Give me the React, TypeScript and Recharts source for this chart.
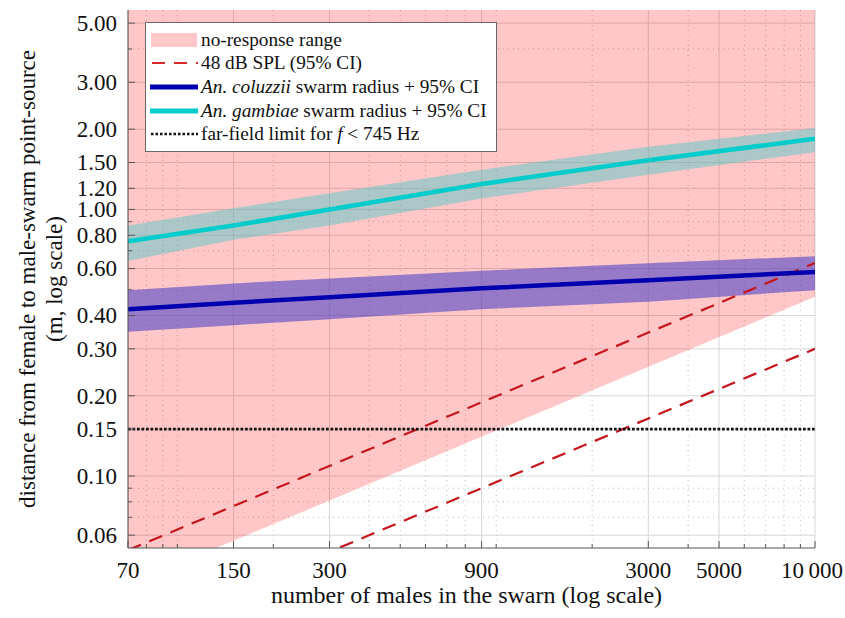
import React from 'react';
import { ComposedChart, Area, Line, XAxis, YAxis, CartesianGrid } from 'recharts';

// swarm size sampled along the fitted radius curves
const swarmN = [70, 150, 300, 900, 3000, 10000];
const gambiaeRadius = [0.76, 0.87, 1.0, 1.245, 1.53, 1.84];
const gambiaeCiLow = [0.64, 0.77, 0.87, 1.1, 1.35, 1.64];
const gambiaeCiHigh = [0.87, 1.01, 1.15, 1.41, 1.72, 2.02];
const coluzziiRadius = [0.422, 0.447, 0.468, 0.506, 0.543, 0.583];
const coluzziiCiLow = [0.348, 0.368, 0.387, 0.422, 0.451, 0.498];
const coluzziiCiHigh = [0.498, 0.528, 0.551, 0.589, 0.628, 0.668];

// straight lines on log-log axes, so the two end points are enough
const edgeN = [70, 10000];
const noResponseFloor = [0.039, 0.47];
const noResponseCeiling = [5.6, 5.6];
const splHigh = [0.0527, 0.63];
const splLow = [0.0251, 0.3];
const farFieldLimit = [0.15, 0.15];

const xTicks = [70, 150, 300, 900, 3000, 5000, 10000];
const xTickLabels = ['70', '150', '300', '900', '3000', '5000', '10\u2009000'];
const xMinorTicks = [80, 90, 100, 200, 400, 500, 600, 700, 800, 1000, 2000, 4000, 6000, 7000, 8000, 9000];
const yTicks = [0.06, 0.1, 0.15, 0.2, 0.3, 0.4, 0.6, 0.8, 1, 1.2, 1.5, 2, 3, 5];
const yMinorTicks = [0.07, 0.08, 0.09, 0.5, 0.7, 0.9, 4];

const allN = Array.from(new Set([...swarmN, ...edgeN])).sort((a, b) => a - b);
const rows = allN.map((n) => {
  const row: any = { n };
  const i = swarmN.indexOf(n);
  if (i >= 0) {
    row.gambiae = gambiaeRadius[i];
    row.gambiaeCi = [gambiaeCiLow[i], gambiaeCiHigh[i]];
    row.coluzzii = coluzziiRadius[i];
    row.coluzziiCi = [coluzziiCiLow[i], coluzziiCiHigh[i]];
  }
  const j = edgeN.indexOf(n);
  if (j >= 0) {
    row.noResponse = [noResponseFloor[j], noResponseCeiling[j]];
    row.splHigh = splHigh[j];
    row.splLow = splLow[j];
    row.farField = farFieldLimit[j];
  }
  return row;
});

const FONT = '"Liberation Serif", "Times New Roman", serif';
const X_MARGIN = 14;
const Y_MARGIN = 11;

const XTick = ({ x, y, payload }: any) => {
  const k = xTicks.indexOf(payload.value);
  const axisY = y - X_MARGIN;
  // last label sits against the right edge, nudge it in a little
  const tx = k === xTicks.length - 1 ? x - 3 : x;
  return (
    <g>
      <line x1={x} x2={x} y1={axisY} y2={axisY - (k >= 0 ? 7 : 4)} stroke="#555" />
      {k >= 0 && (
        <text x={tx} y={y} dy="0.71em" textAnchor="middle" fontSize={23} fontFamily={FONT} fill="#111">
          {xTickLabels[k]}
        </text>
      )}
    </g>
  );
};

const YTick = ({ x, y, payload }: any) => {
  const major = yTicks.includes(payload.value);
  const axisX = x + Y_MARGIN;
  return (
    <g>
      <line x1={axisX} x2={axisX + (major ? 7 : 4)} y1={y} y2={y} stroke="#555" />
      {major && (
        <text x={x} y={y} dy="0.34em" textAnchor="end" fontSize={23} fontFamily={FONT} fill="#111">
          {payload.value.toFixed(2)}
        </text>
      )}
    </g>
  );
};

const YTitle = ({ viewBox }: any) => {
  const cy = viewBox.y + viewBox.height / 2;
  return (
    <g fontSize={23} fontFamily={FONT} fill="#111">
      <text transform={`translate(35, ${cy}) rotate(-90)`} textAnchor="middle">
        distance from female to male-swarm point-source
      </text>
      <text transform={`translate(62, ${cy}) rotate(-90)`} textAnchor="middle">
        (m, log scale)
      </text>
    </g>
  );
};

const XTitle = ({ viewBox }: any) => (
  <text x={viewBox.x + viewBox.width / 2 - 5} y={603} textAnchor="middle" fontSize={24} fontFamily={FONT} fill="#111">
    number of males in the swarn (log scale)
  </text>
);

const Swatch = ({ kind }: { kind: string }) => (
  <svg width={48} height={16} style={{ marginRight: 3, flex: 'none' }}>
    {kind === 'area' && <rect x={1} y={1} width={46} height={14} fill="#ffc7c7" />}
    {kind === 'dash' && <line x1={2} x2={48} y1={8} y2={8} stroke="#d42a2a" strokeWidth={2} strokeDasharray="13 9" />}
    {kind === 'blue' && <line x1={0} x2={48} y1={8} y2={8} stroke="#0000b0" strokeWidth={5} />}
    {kind === 'cyan' && <line x1={0} x2={48} y1={8} y2={8} stroke="#00cccc" strokeWidth={5} />}
    {kind === 'dot' && <line x1={1} x2={48} y1={8} y2={8} stroke="#111" strokeWidth={2.5} strokeDasharray="2.5 2" />}
  </svg>
);

const legendRows: [string, React.ReactNode][] = [
  ['area', 'no-response range'],
  ['dash', '48 dB SPL (95% CI)'],
  ['blue', <><i>An. coluzzii</i> swarm radius + 95% CI</>],
  ['cyan', <><i>An. gambiae</i> swarm radius + 95% CI</>],
  ['dot', <>far-field limit for <i>f</i> &lt; 745 Hz</>],
];

export default function App() {
  return (
    <div style={{ position: 'absolute', left: 0, top: 0, width: 845, height: 618, background: '#fff' }}>
      <ComposedChart width={845} height={618} data={rows} margin={{ top: 10, right: 30, bottom: 0, left: 0 }}>
        <CartesianGrid horizontalValues={yMinorTicks} verticalValues={xMinorTicks} stroke="#bdbdbd" strokeDasharray="1 4" />
        <CartesianGrid horizontalValues={yTicks} verticalValues={xTicks} stroke="#d6d6d6" />
        <XAxis
          dataKey="n" type="number" scale="log" domain={[70, 10000]} allowDataOverflow
          ticks={[...xTicks, ...xMinorTicks].sort((a, b) => a - b)} interval={0}
          tick={<XTick />} tickLine={false} tickSize={0} tickMargin={X_MARGIN}
          height={70} stroke="#555" label={{ content: (p: any) => <XTitle {...p} /> }}
        />
        <YAxis
          type="number" scale="log" domain={[0.0537, 5.6]} allowDataOverflow
          ticks={[...yTicks, ...yMinorTicks].sort((a, b) => a - b)} interval={0}
          tick={<YTick />} tickLine={false} tickSize={0} tickMargin={Y_MARGIN}
          width={128} stroke="#555" label={{ content: (p: any) => <YTitle {...p} /> }}
        />
        <Area dataKey="noResponse" fill="#ff0000" fillOpacity={0.22} stroke="none" connectNulls isAnimationActive={false} />
        <Line dataKey="splHigh" stroke="#c4161c" strokeWidth={2.2} strokeDasharray="14 9" dot={false} connectNulls isAnimationActive={false} />
        <Line dataKey="splLow" stroke="#c4161c" strokeWidth={2.2} strokeDasharray="14 9" dot={false} connectNulls isAnimationActive={false} />
        <Line dataKey="farField" stroke="#111" strokeWidth={2.7} strokeDasharray="2.7 1.8" dot={false} connectNulls isAnimationActive={false} />
        <Area dataKey="gambiaeCi" fill="#5ac8c8" fillOpacity={0.5} stroke="none" connectNulls isAnimationActive={false} />
        <Area dataKey="coluzziiCi" fill="#5046c8" fillOpacity={0.6} stroke="none" connectNulls isAnimationActive={false} />
        <Line dataKey="gambiae" stroke="#00cccc" strokeWidth={4.5} dot={false} connectNulls isAnimationActive={false} />
        <Line dataKey="coluzzii" stroke="#0000b0" strokeWidth={4.5} dot={false} connectNulls isAnimationActive={false} />
      </ComposedChart>
      <div
        style={{
          position: 'absolute', left: 145, top: 22, width: 352, height: 130, background: '#fff',
          border: '1px solid #666', fontFamily: FONT, fontSize: 19.3, color: '#111',
          padding: '5px 0 0 4px', boxSizing: 'border-box',
        }}
      >
        {legendRows.map(([kind, text], i) => (
          <div key={i} style={{ display: 'flex', alignItems: 'center', height: 23.6, whiteSpace: 'nowrap' }}>
            <Swatch kind={kind} />
            <span>{text}</span>
          </div>
        ))}
      </div>
    </div>
  );
}
